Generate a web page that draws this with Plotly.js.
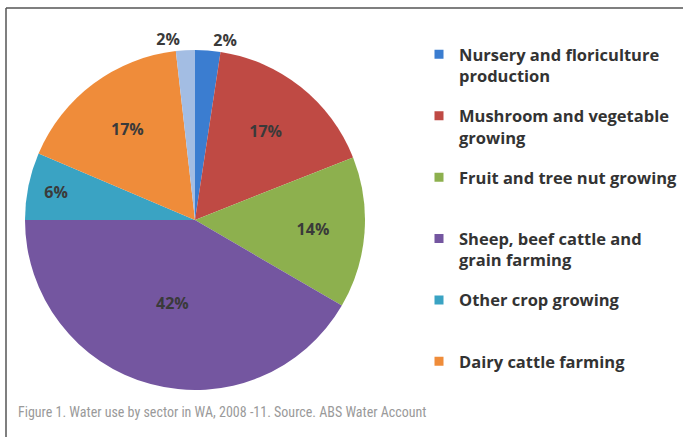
<!DOCTYPE html>
<html>
<head>
<meta charset="utf-8">
<script src="https://cdn.plot.ly/plotly-3.0.1.min.js"></script>
<style>html,body{margin:0;padding:0;background:#fff;}#chart{width:683px;height:437px;}</style>
</head>
<body>
<div id="chart"></div>
<script>
// Data
const sliceLabels = ["Nursery and floriculture production", "Mushroom and vegetable growing", "Fruit and tree nut growing", "Sheep, beef cattle and grain farming", "Other crop growing", "Dairy cattle farming", "Other"];
const sliceValues = [2.4, 16.6, 14.4, 41.6, 6.4, 16.8, 1.8];
const sliceColors = ["#3b7dd0", "#bf4a44", "#8db04e", "#7456a0", "#3aa3c3", "#ef8c3a", "#a3bde3"];
const legendLabels = ["Nursery and floriculture<br>production", "Mushroom and vegetable<br>growing", "Fruit and tree nut growing<br>&nbsp;", "Sheep, beef cattle and<br>grain farming", "Other crop growing<br>&nbsp;", "Dairy cattle farming<br>&nbsp;"];
const textPositions = ["outside", "inside", "inside", "inside", "inside", "inside", "outside"];
const captionText = "Figure 1. Water use by sector in WA, 2008 -11. Source. ABS Water Account";

const traces = [{
  type: "pie",
  labels: sliceLabels,
  values: sliceValues,
  sort: false,
  direction: "clockwise",
  rotation: 0,
  marker: {colors: sliceColors, line: {color: "#ffffff", width: 0}},
  textposition: textPositions,
  texttemplate: "%{percent:.0%}",
  insidetextorientation: "horizontal",
  textfont: {family: "Open Sans, sans-serif", size: 16, color: "#3a3a3a", weight: "bold"},
  outsidetextfont: {family: "Open Sans, sans-serif", size: 16, color: "#3a3a3a", weight: "bold"},
  domain: {x: [0.0366, 0.5344], y: [0.1076, 0.8856]},
  showlegend: false,
  hoverinfo: "label+percent"
}];

legendLabels.forEach((name, i) => {
  traces.push({
    type: "scatter", mode: "markers",
    x: [null], y: [null],
    name: name,
    legendgroup: "g" + i,
    marker: {symbol: "square", size: 9, color: sliceColors[i]},
    showlegend: true, hoverinfo: "skip"
  });
});

const layout = {
  width: 683, height: 437,
  margin: {l: 0, r: 0, t: 0, b: 0},
  paper_bgcolor: "#ffffff", plot_bgcolor: "rgba(0,0,0,0)",
  xaxis: {visible: false, range: [0, 1]},
  yaxis: {visible: false, range: [0, 1]},
  showlegend: true,
  legend: {
    x: 0.6136, y: 0.915, xanchor: "left", yanchor: "top",
    bgcolor: "rgba(0,0,0,0)",
    font: {family: "Open Sans, sans-serif", size: 16.5, color: "#333333", weight: "bold"},
    tracegroupgap: 15.5, itemwidth: 30, valign: "top"
  },
  shapes: [
    {type: "line", xref: "paper", yref: "paper", x0: 6/683, x1: 1.02, y0: 1 - 8/437, y1: 1 - 8/437, line: {color: "#555555", width: 1.5}},
    {type: "line", xref: "paper", yref: "paper", x0: 6/683, x1: 6/683, y0: 1 - 8/437, y1: -0.02, line: {color: "#555555", width: 1.5}}
  ],
  annotations: [{
    text: captionText, xref: "paper", yref: "paper",
    x: 16/683, y: 1 - 412/437, xanchor: "left", yanchor: "middle",
    showarrow: false,
    font: {family: "Roboto Condensed, Roboto, sans-serif", size: 14, color: "#9a9a9a"}
  }]
};

Plotly.newPlot("chart", traces, layout, {displayModeBar: false, staticPlot: true});
</script>
</body>
</html>
